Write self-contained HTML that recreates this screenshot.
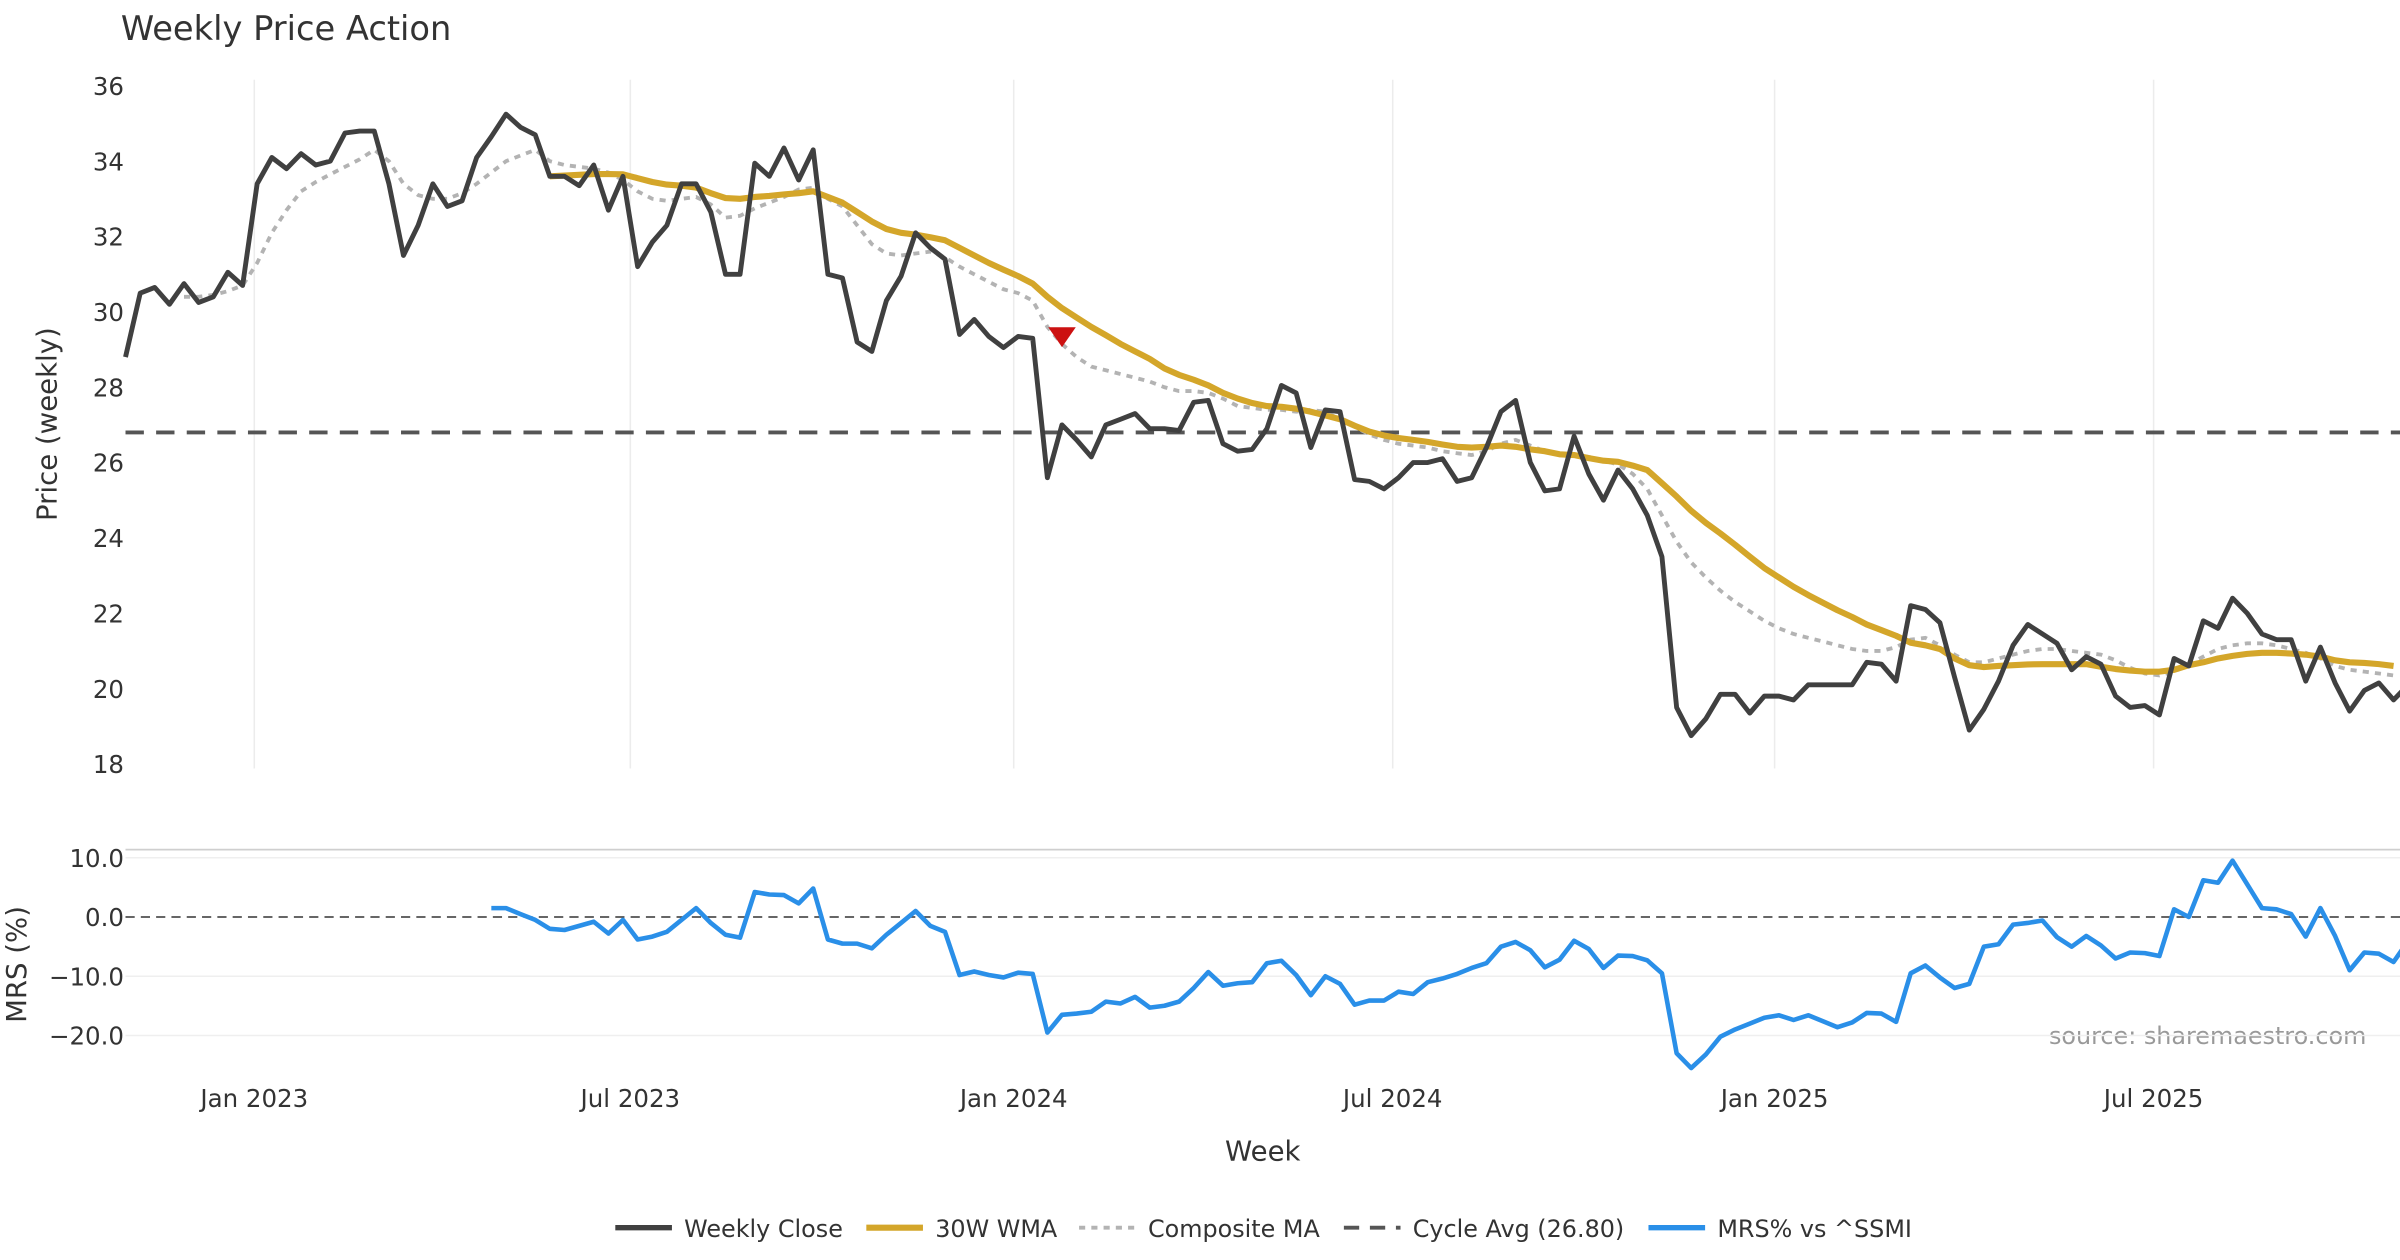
<!DOCTYPE html>
<html><head><meta charset="utf-8"><style>
html,body{margin:0;padding:0;background:#fff}
svg{display:block;font-family:"DejaVu Sans","Liberation Sans",sans-serif}
</style></head><body>
<svg id="chart" width="2400" height="1260" viewBox="0 0 1568 823" xmlns="http://www.w3.org/2000/svg">
<text x="79" y="26" font-size="22" fill="#333">Weekly Price Action</text>
<text transform="translate(37,277) rotate(-90)" text-anchor="middle" font-size="18" fill="#333">Price (weekly)</text>
<text transform="translate(17,630) rotate(-90)" text-anchor="middle" font-size="18" fill="#333">MRS (%)</text>
<text x="825" y="758" text-anchor="middle" font-size="18" fill="#333">Week</text>
<text x="1546" y="682" text-anchor="end" font-size="15.6" fill="#999">source: sharemaestro.com</text>
<g id="grid"></g><g id="marks"></g><g id="legend"></g>
</svg>
<script>
const closeVals=[28.8,30.5,30.65,30.2,30.75,30.25,30.4,31.05,30.7,33.4,34.1,33.8,34.2,33.9,34.0,34.75,34.8,34.8,33.4,31.5,32.3,33.4,32.8,32.95,34.1,34.65,35.25,34.9,34.7,33.6,33.6,33.35,33.9,32.7,33.6,31.2,31.85,32.3,33.4,33.4,32.65,31.0,31.0,33.95,33.6,34.35,33.5,34.3,31.0,30.9,29.2,28.95,30.3,30.95,32.1,31.7,31.4,29.4,29.8,29.35,29.05,29.35,29.3,25.6,27.0,26.6,26.15,27.0,27.15,27.3,26.9,26.9,26.85,27.6,27.65,26.5,26.3,26.35,26.9,28.05,27.85,26.4,27.4,27.35,25.55,25.5,25.3,25.6,26.0,26.0,26.1,25.5,25.6,26.4,27.35,27.65,26.0,25.25,25.3,26.7,25.7,25.0,25.8,25.3,24.6,23.5,19.5,18.75,19.2,19.85,19.85,19.35,19.8,19.8,19.7,20.1,20.1,20.1,20.1,20.7,20.65,20.2,22.2,22.1,21.75,20.3,18.9,19.45,20.2,21.15,21.7,21.45,21.2,20.5,20.85,20.65,19.8,19.5,19.55,19.3,20.8,20.6,21.8,21.6,22.4,22.0,21.45,21.3,21.3,20.2,21.1,20.15,19.4,19.95,20.15,19.7,20.1];
const wmaStart=29;
const wmaVals=[33.6,33.62,33.64,33.66,33.66,33.65,33.55,33.45,33.38,33.35,33.3,33.15,33.02,33.0,33.05,33.08,33.12,33.15,33.2,33.05,32.9,32.65,32.4,32.2,32.1,32.05,31.98,31.9,31.7,31.5,31.3,31.12,30.95,30.75,30.4,30.1,29.85,29.6,29.38,29.15,28.95,28.75,28.5,28.33,28.2,28.05,27.85,27.7,27.58,27.5,27.48,27.43,27.35,27.25,27.15,26.98,26.82,26.72,26.65,26.6,26.55,26.48,26.42,26.4,26.42,26.45,26.42,26.35,26.3,26.22,26.2,26.12,26.05,26.02,25.92,25.8,25.45,25.1,24.72,24.4,24.12,23.82,23.5,23.2,22.95,22.7,22.48,22.28,22.08,21.9,21.7,21.55,21.4,21.22,21.15,21.05,20.8,20.62,20.57,20.6,20.62,20.64,20.65,20.65,20.65,20.65,20.58,20.52,20.48,20.45,20.45,20.5,20.62,20.7,20.8,20.87,20.92,20.95,20.95,20.93,20.9,20.85,20.75,20.7,20.68,20.65,20.6];
const compStart=4;
const compVals=[30.4,30.4,30.45,30.55,30.7,31.3,32.1,32.7,33.2,33.45,33.65,33.85,34.05,34.3,34.0,33.4,33.1,33.0,33.0,33.15,33.4,33.7,34.0,34.15,34.3,34.0,33.9,33.85,33.8,33.7,33.5,33.2,33.0,32.95,33.0,33.05,32.85,32.5,32.55,32.75,32.9,33.05,33.25,33.3,33.0,32.8,32.3,31.8,31.55,31.5,31.55,31.6,31.45,31.2,31.0,30.8,30.6,30.5,30.3,29.6,29.15,28.8,28.55,28.45,28.35,28.25,28.15,28.0,27.9,27.9,27.85,27.7,27.5,27.45,27.4,27.4,27.35,27.4,27.35,27.15,26.95,26.75,26.6,26.5,26.45,26.4,26.3,26.25,26.2,26.3,26.5,26.6,26.45,26.3,26.2,26.2,26.15,26.05,25.95,25.7,25.3,24.6,23.9,23.35,22.95,22.6,22.3,22.05,21.8,21.6,21.45,21.35,21.25,21.15,21.05,21.0,21.0,21.1,21.3,21.35,21.15,20.9,20.7,20.7,20.8,20.9,21.0,21.05,21.05,21.0,20.95,20.9,20.75,20.55,20.4,20.35,20.45,20.65,20.85,21.05,21.15,21.2,21.2,21.15,21.05,20.95,20.8,20.6,20.5,20.45,20.4,20.35];
const mrsStart=25;
const mrsVals=[1.5,1.5,0.5,-0.5,-2.0,-2.2,-1.5,-0.8,-2.8,-0.5,-3.8,-3.3,-2.5,-0.5,1.5,-1.0,-3.0,-3.5,4.2,3.8,3.7,2.3,4.8,-3.8,-4.5,-4.5,-5.3,-3.0,-1.0,1.0,-1.5,-2.5,-9.8,-9.2,-9.8,-10.2,-9.4,-9.6,-19.5,-16.5,-16.3,-16.0,-14.3,-14.6,-13.5,-15.3,-15.0,-14.3,-12.0,-9.3,-11.6,-11.2,-11.0,-7.8,-7.4,-9.8,-13.2,-10.0,-11.3,-14.8,-14.1,-14.1,-12.6,-13.0,-11.0,-10.4,-9.6,-8.6,-7.8,-5.0,-4.2,-5.6,-8.5,-7.2,-4.0,-5.4,-8.6,-6.5,-6.6,-7.3,-9.5,-23.0,-25.5,-23.2,-20.2,-19.0,-18.0,-17.0,-16.6,-17.4,-16.6,-17.6,-18.6,-17.8,-16.2,-16.3,-17.7,-9.5,-8.2,-10.2,-12.0,-11.3,-5.0,-4.6,-1.3,-1.0,-0.6,-3.4,-5.0,-3.2,-4.8,-7.0,-6.0,-6.1,-6.6,1.3,0.0,6.2,5.8,9.5,5.5,1.5,1.3,0.5,-3.3,1.5,-3.2,-9.0,-6.0,-6.2,-7.6,-4.0];
const cycleAvg=26.8;
const signalIdx=[64];
const signalVals=[29.35];
const priceTicks=[18,20,22,24,26,28,30,32,34,36];
const mrsTicks=[10,0,-10,-20];
const mrsTickLabels=["10.0","0.0","\u221210.0","\u221220.0"];
const xTickWeeks=[8.8,34.5,60.7,86.6,112.7,138.6];
const xTickLabels=["Jan 2023","Jul 2023","Jan 2024","Jul 2024","Jan 2025","Jul 2025"];

const NS="http://www.w3.org/2000/svg";
const X0=82, DX=9.56;
const xs=i=>X0+i*DX;
const yp=v=>499-(v-18)*(443/18);
const ym=v=>599-v*3.87;
const grid=document.getElementById('grid'), marks=document.getElementById('marks'), legend=document.getElementById('legend');
function mk(tag,attrs,parent){const e=document.createElementNS(NS,tag);for(const k in attrs)e.setAttribute(k,attrs[k]);parent.appendChild(e);return e;}

xTickWeeks.forEach((w,k)=>{
  const g=mk('line',{x1:xs(w),x2:xs(w),y1:52,y2:502,stroke:'#ececec','stroke-width':1},grid);
  
  
  const t=mk('text',{x:xs(w),y:723,'text-anchor':'middle','font-size':16,fill:'#333'},grid);
  t.textContent=xTickLabels[k];
  
  
});
priceTicks.forEach(v=>{
  const t=mk('text',{x:81,y:yp(v)+6,'text-anchor':'end','font-size':16,fill:'#333'},grid);
  t.textContent=v;
  
  
});
const border=mk('line',{x1:82,x2:1568,y1:555,y2:555,stroke:'#cfcfcf','stroke-width':1.2},grid);


mrsTicks.forEach((v,k)=>{
  if(v!==0){const g=mk('line',{x1:82,x2:1568,y1:ym(v),y2:ym(v),stroke:'#efefef','stroke-width':1},grid);
  
  }
  const t=mk('text',{x:81,y:ym(v)+6,'text-anchor':'end','font-size':16,fill:'#333'},grid);
  t.textContent=mrsTickLabels[k];
  
  
});
const zero=mk('line',{x1:82,x2:1568,y1:ym(0),y2:ym(0),stroke:'#333','stroke-width':1,'stroke-dasharray':'6,4'},marks);



function pts(vals,start,yf){return vals.map((v,i)=>xs(start+i).toFixed(1)+','+yf(v).toFixed(1)).join(' ');}
const cyc=mk('line',{x1:82,x2:1568,y1:yp(cycleAvg),y2:yp(cycleAvg),stroke:'#555','stroke-width':2.5,'stroke-dasharray':'12,8'},marks);


const comp=mk('polyline',{points:pts(compVals,compStart,yp),fill:'none',stroke:'#b3b3b3','stroke-width':2.5,'stroke-dasharray':'4,4'},marks);


const wma=mk('polyline',{points:pts(wmaVals,wmaStart,yp),fill:'none',stroke:'#D4A62A','stroke-width':4,'stroke-linejoin':'round'},marks);


const cl=mk('polyline',{points:pts(closeVals,0,yp),fill:'none',stroke:'#404040','stroke-width':3.2,'stroke-linejoin':'round'},marks);


signalIdx.forEach((si,k)=>{
  const x=xs(si), y=yp(signalVals[k]);
  const p=mk('polygon',{points:`${x-9},${y-6} ${x+9},${y-6} ${x},${y+7}`,fill:'#CC1111'},marks);
  
  
});
const mrs=mk('polyline',{points:pts(mrsVals,mrsStart,ym),fill:'none',stroke:'#2A8FE8','stroke-width':3,'stroke-linejoin':'round'},marks);



const items=[
 {x:402,label:'Weekly Close',stroke:'#404040',dash:'',w:3.5,name:'legend-weekly-close'},
 {x:566,label:'30W WMA',stroke:'#D4A62A',dash:'',w:4,name:'legend-wma'},
 {x:705,label:'Composite MA',stroke:'#b3b3b3',dash:'4,4',w:2.5,name:'legend-composite-ma'},
 {x:878,label:'Cycle Avg (26.80)',stroke:'#555',dash:'10,7',w:2.5,name:'legend-cycle-avg'},
 {x:1077,label:'MRS% vs ^SSMI',stroke:'#2A8FE8',dash:'',w:3.5,name:'legend-mrs'}];
items.forEach(it=>{
  const g=mk('g',{},legend);
  
  
  mk('line',{x1:it.x,x2:it.x+37,y1:802,y2:802,stroke:it.stroke,'stroke-width':it.w,'stroke-dasharray':it.dash},g);
  const t=mk('text',{x:it.x+45,y:808,'font-size':15.6,fill:'#333'},g);
  t.textContent=it.label;
});
</script>
</body></html>
